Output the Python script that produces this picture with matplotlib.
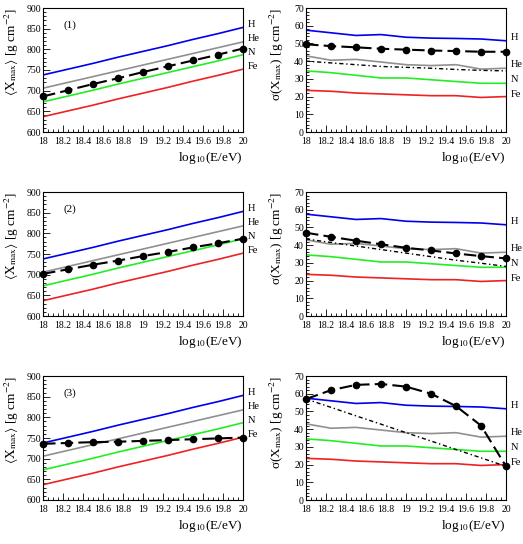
import matplotlib
matplotlib.use("Agg")
import matplotlib.pyplot as plt
import numpy as np
from matplotlib.ticker import MultipleLocator

plt.rcParams['font.family'] = ['Liberation Serif', 'DejaVu Serif']
plt.rcParams['mathtext.fontset'] = 'stix'

energy = [18.0, 18.25, 18.5, 18.75, 19.0, 19.25, 19.5, 19.75, 20.0]
species = ['H', 'He', 'N', 'Fe']
colors = {'H': '#0000ee', 'He': '#909090', 'N': '#22ee22', 'Fe': '#ee2222'}

mean_H = [738, 752, 766, 781, 795, 809, 824, 838, 853]
mean_He = [706, 720, 734, 748, 762, 776, 790, 804, 818]
mean_N = [673, 687, 701, 716, 730, 744, 758, 772, 787]
mean_Fe = [637, 651, 665, 680, 694, 708, 723, 737, 752]

sig_H = [57.5, 56.0, 54.5, 55.0, 53.5, 53.0, 52.8, 52.5, 51.5]
sig_He = [43.0, 40.5, 41.0, 39.5, 38.0, 37.5, 38.0, 35.5, 36.0]
sig_N = [34.5, 33.5, 32.0, 30.5, 30.5, 29.5, 28.5, 27.5, 27.5]
sig_Fe = [23.5, 23.0, 22.0, 21.5, 21.0, 20.5, 20.5, 19.5, 20.0]

data_mean_1 = [686, 701, 716, 730, 745, 759, 773, 787, 802]
data_mean_2 = [702, 713, 724, 734, 745, 755, 766, 776, 787]
data_mean_3 = [736, 738, 740, 741, 743, 745, 747, 749, 751]

data_sig_1 = [49.5, 48.5, 47.8, 47.0, 46.5, 46.0, 45.7, 45.3, 45.3]
data_sig_2 = [47.0, 44.7, 42.5, 40.5, 38.5, 37.0, 35.3, 33.8, 32.5]
data_sig_3 = [57.0, 62.0, 65.0, 65.5, 64.0, 60.0, 53.0, 42.0, 19.0]

dot_sig_1 = [40.0, 39.0, 38.0, 37.0, 36.5, 36.0, 35.3, 34.8, 34.5]
dot_sig_2 = [43.5, 41.5, 39.5, 37.5, 35.5, 33.5, 31.5, 29.8, 28.0]
dot_sig_3 = [57.0, 52.3, 47.5, 42.8, 38.0, 33.3, 28.5, 23.8, 19.0]

panel_labels = ['(1)', '(2)', '(3)']

mean_models = {'H': mean_H, 'He': mean_He, 'N': mean_N, 'Fe': mean_Fe}
sig_models = {'H': sig_H, 'He': sig_He, 'N': sig_N, 'Fe': sig_Fe}
mean_label_y = {'H': 860, 'He': 827, 'N': 793, 'Fe': 759}
sig_label_y = {'H': 53.2, 'He': 38.0, 'N': 29.7, 'Fe': 21.3}

data_means = [data_mean_1, data_mean_2, data_mean_3]
data_sigs = [data_sig_1, data_sig_2, data_sig_3]
dot_sigs = [dot_sig_1, dot_sig_2, dot_sig_3]

W, H = 523, 544
fig = plt.figure(figsize=(W / 100, H / 100), dpi=100)

rows_top = [8, 192, 376]
ax_h = 124
lx, rx, aw = 43, 306, 200

def style(ax, major_y, minor_y):
    ax.set_xlim(18, 20)
    ax.xaxis.set_major_locator(MultipleLocator(0.2))
    ax.xaxis.set_minor_locator(MultipleLocator(0.05))
    ax.yaxis.set_major_locator(MultipleLocator(major_y))
    ax.yaxis.set_minor_locator(MultipleLocator(minor_y))
    ax.tick_params(which='both', direction='in', top=False, right=False,
                   labelsize=7)
    ax.tick_params(axis='y', pad=1.5)
    ax.tick_params(axis='x', pad=3.5)
    ax.tick_params(which='major', length=5, width=0.6)
    ax.tick_params(which='minor', length=2.5, width=0.6)
    ax.xaxis.set_major_formatter(plt.FuncFormatter(lambda v, p: ('%g' % round(v, 1))))
    for s in ax.spines.values():
        s.set_linewidth(0.8)
    ax.text(1.0, -0.21, r'log$_{10}$(E/eV)', transform=ax.transAxes,
            ha='right', va='center', fontsize=9.5)

for i in range(3):
    top = rows_top[i]
    y0 = 1 - (top + ax_h) / H
    # left
    ax = fig.add_axes([lx / W, y0, aw / W, ax_h / H])
    for sp in species:
        ax.plot(energy, mean_models[sp], color=colors[sp], lw=1.2)
        ax.text(20.05, mean_label_y[sp], sp, fontsize=7.5, ha='left', va='center')
    ax.plot(energy, data_means[i], color='black', lw=1.5, ls=(0, (6, 2.5)),
            marker='o', ms=4.5, clip_on=False, zorder=5)
    ax.set_ylim(600, 900)
    style(ax, 50, 10)
    ax.text(18.27, 858, panel_labels[i], fontsize=8, ha='center', va='center')
    ax.set_ylabel(r'$\langle\mathrm{X}_{\mathrm{max}}\rangle$ [g cm$^{-2}$]',
                  fontsize=9.5, labelpad=4, loc='top')

    # right
    ax = fig.add_axes([rx / W, y0, aw / W, ax_h / H])
    for sp in species:
        ax.plot(energy, sig_models[sp], color=colors[sp], lw=1.2)
        ax.text(20.05, sig_label_y[sp], sp, fontsize=7.5, ha='left', va='center')
    ax.plot(energy, dot_sigs[i], color='black', lw=1.0, ls=(0, (3, 2, 1, 2)))
    ax.plot(energy, data_sigs[i], color='black', lw=1.5, ls=(0, (6, 2.5)),
            marker='o', ms=4.5, clip_on=False, zorder=5)
    ax.set_ylim(0, 70)
    style(ax, 10, 2)
    ax.set_ylabel('\u03c3(X$_{\\rm max}$) [g cm$^{-2}$]', fontsize=9.5,
                  labelpad=6, loc='top')

fig.savefig('out.png', dpi=100)
